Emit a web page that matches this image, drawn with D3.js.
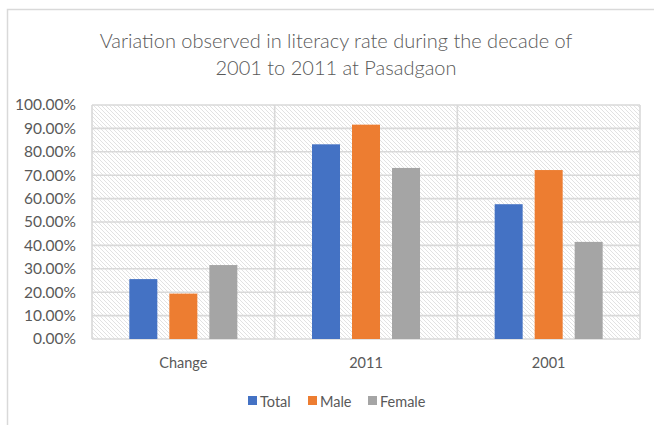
<!DOCTYPE html>
<html><head><meta charset="utf-8">
<script src="https://cdn.jsdelivr.net/npm/d3@7"></script>
<style>body{margin:0;background:#fff}svg{display:block}</style>
</head><body>
<script>
const categories = ["Change", "2011", "2001"];
const seriesNames = ["Total", "Male", "Female"];
const totalValues = [25.6, 83.2, 57.6];
const maleValues = [19.4, 91.6, 72.2];
const femaleValues = [31.6, 73.1, 41.5];
const yTicks = [0,10,20,30,40,50,60,70,80,90,100];
const colors = ["#4472C4", "#ED7D31", "#A5A5A5"];
const titleLines = ["Variation observed in literacy rate during the decade of", "2001 to 2011 at Pasadgaon"];

(function(){
const W = 654, H = 425;
const svg = d3.select("body").append("svg").attr("width", W).attr("height", H);
const font = "Lato, 'Open Sans', sans-serif";

// outer chart border
svg.append("path").attr("d", `M7.5,${H} L7.5,9.5 L${W},9.5`).attr("fill","none").attr("stroke","#d9d9d9").attr("stroke-width",1.5);

const defs = svg.append("defs");
const pat = defs.append("pattern").attr("id","hatch").attr("patternUnits","userSpaceOnUse").attr("width",4).attr("height",4);
pat.append("rect").attr("width",4).attr("height",4).attr("fill","#fff");
pat.append("path").attr("d","M-1,-1 L5,5 M-1,3 L1,5 M3,-1 L5,1").attr("stroke","#e2e2e2").attr("stroke-width",1);

const pL = 92, pR = 640, pT = 105, pB = 339;
const y = d3.scaleLinear().domain([0,100]).range([pB, pT]);
const x0 = d3.scaleBand().domain(categories).range([pL, pR]);
const x1 = d3.scaleBand().domain(seriesNames).range([0, x0.bandwidth()]).paddingInner(0.3).paddingOuter(0.933);

svg.append("rect").attr("x",pL).attr("y",pT).attr("width",pR-pL).attr("height",pB-pT).attr("fill","url(#hatch)");

// gridlines
svg.append("g").selectAll("line").data(yTicks).join("line")
  .attr("x1",pL).attr("x2",pR).attr("y1",d=>y(d)).attr("y2",d=>y(d))
  .attr("stroke","#d9d9d9").attr("stroke-width",1.6);
// vertical dividers
const divs = categories.map(c=>x0(c)).concat([pR]);
svg.append("g").selectAll("line").data(divs).join("line")
  .attr("x1",d=>d).attr("x2",d=>d).attr("y1",pT).attr("y2",pB)
  .attr("stroke","#d9d9d9").attr("stroke-width",1.6);

// y labels
const yAxis = svg.append("g").attr("transform",`translate(${pL-16},0)`)
  .call(d3.axisLeft(y).tickValues(yTicks).tickSize(0).tickFormat(d=>d.toFixed(2)+"%"));
yAxis.select(".domain").remove();
yAxis.selectAll("text").attr("font-family",font).attr("font-size",15.5).attr("fill","#595959").attr("x",0);

// bars
const seriesValues = [totalValues, maleValues, femaleValues];
const data = [];
categories.forEach((c,i)=>seriesNames.forEach((s,j)=>data.push({c, s, v: seriesValues[j][i], color: colors[j]})));
svg.append("g").selectAll("rect").data(data).join("rect")
  .attr("x",d=>x0(d.c)+x1(d.s)).attr("width",x1.bandwidth())
  .attr("y",d=>y(d.v)).attr("height",d=>y(0)-y(d.v))
  .attr("fill",d=>d.color);

// x labels
svg.append("g").selectAll("text").data(categories).join("text")
  .attr("x",d=>x0(d)+x0.bandwidth()/2).attr("y",368).attr("text-anchor","middle")
  .attr("font-family",font).attr("font-size",14.5).attr("fill","#595959").text(d=>d);

// title
svg.append("g").selectAll("text").data(titleLines).join("text")
  .attr("x",336).attr("y",(d,i)=>48+i*27).attr("text-anchor","middle")
  .attr("font-family",font).attr("font-weight",300).attr("font-size",20).attr("fill","#595959").text(d=>d);

// legend
const legX = [248, 308, 368];
const lg = svg.append("g").selectAll("g").data(seriesNames).join("g")
  .attr("transform",(d,i)=>`translate(${legX[i]},0)`);
lg.append("rect").attr("x",0).attr("y",396).attr("width",9).attr("height",9).attr("fill",(d,i)=>colors[i]);
lg.append("text").attr("x",12).attr("y",407).attr("font-family",font).attr("font-size",14.5).attr("fill","#595959").text(d=>d);
})();
</script>
</body></html>
